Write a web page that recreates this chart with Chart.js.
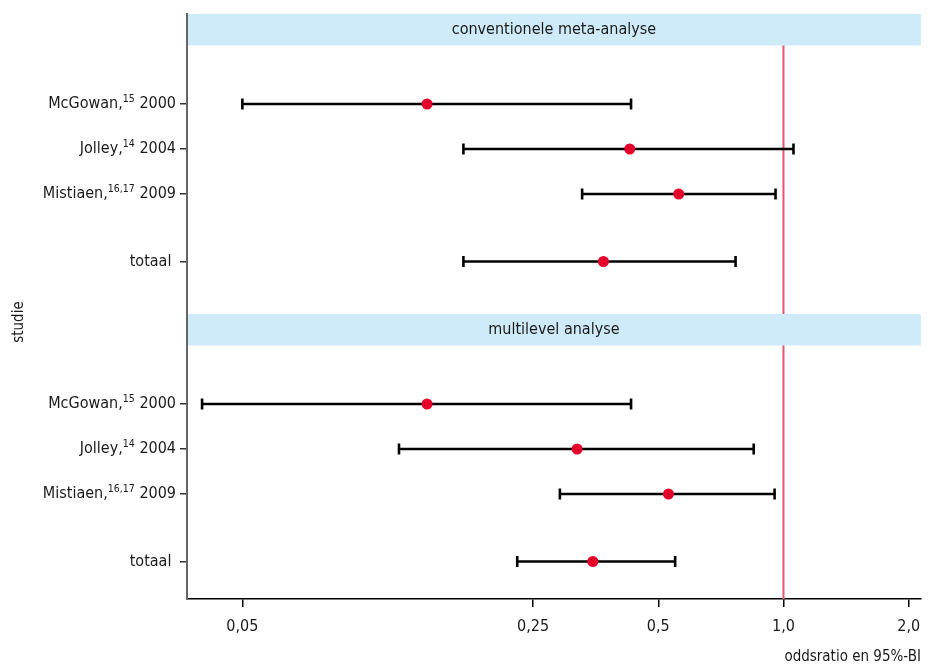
<!DOCTYPE html>
<html lang="nl">
<head>
  <meta charset="UTF-8">
  <title>Forest plot – oddsratio en 95%-BI</title>
  <script src="https://cdn.jsdelivr.net/npm/chart.js"></script>
  <style>
    html, body { margin:0; padding:0; background:#fff; }
    #wrap { width:929px; height:668px; }
  </style>
</head>
<body>
  <div id="wrap"><canvas id="forest" width="929" height="668"></canvas></div>

  <script>
    /* ---------- data ---------- */
    const panelTitles = ['conventionele meta-analyse', 'multilevel analyse'];
    const studyNames  = ['McGowan', 'Jolley', 'Mistiaen', 'totaal'];
    const studyRefs   = ['15', '14', '16,17', ''];
    const studyYears  = ['2000', '2004', '2009', ''];

    // conventionele meta-analyse
    const orConv  = [0.139, 0.427, 0.560, 0.369];
    const loConv  = [0.050, 0.170, 0.328, 0.170];
    const hiConv  = [0.430, 1.057, 0.957, 0.767];
    // multilevel analyse
    const orMulti = [0.139, 0.319, 0.529, 0.348];
    const loMulti = [0.040, 0.119, 0.290, 0.229];
    const hiMulti = [0.430, 0.848, 0.952, 0.549];

    const xTickValues = [0.05, 0.25, 0.5, 1, 2];
    const xTickLabels = ['0,05', '0,25', '0,5', '1,0', '2,0'];
    const refValue = 1;

    /* ---------- layout (rij-eenheden) ---------- */
    const ROW_STEP   = [2, 3, 4, 5.5];   // rijen binnen een paneel
    const PANEL_SPAN = 20 / 3;           // hoogte per paneel
    const STRIP_H    = 0.7;              // hoogte van de kopbalk
    const Y_MAX      = 13;

    const FONT = "'Liberation Sans Narrow', 'DejaVu Sans Condensed', 'Open Sans', sans-serif";
    const RED  = '#e4002b';

    const panels = [
      { or: orConv,  lo: loConv,  hi: hiConv },
      { or: orMulti, lo: loMulti, hi: hiMulti }
    ];
    const rowY = (p, i) => p * PANEL_SPAN + ROW_STEP[i];

    const datasets = [];
    const dots = [];
    panels.forEach((pn, p) => {
      studyNames.forEach((_, i) => {
        const y = rowY(p, i);
        datasets.push({
          type: 'line',
          data: [{ x: pn.lo[i], y }, { x: pn.hi[i], y }],
          showLine: true,
          borderColor: '#000',
          borderWidth: 2.6,
          pointStyle: 'line',
          rotation: 90,
          pointRadius: 5.5,
          pointBorderWidth: 2.6,
          pointBorderColor: '#000',
          order: 2
        });
        dots.push({ x: pn.or[i], y });
      });
    });
    datasets.push({
      type: 'scatter',
      data: dots,
      pointRadius: 5.5,
      pointBackgroundColor: RED,
      pointBorderWidth: 0,
      order: 1
    });

    const yTickValues = [];
    panels.forEach((_, p) => studyNames.forEach((_, i) => yTickValues.push(rowY(p, i))));

    /* ---------- extra tekenwerk: kopbalken, referentielijn, labels ---------- */
    const decor = {
      id: 'decor',
      beforeDatasetsDraw(chart) {
        const { ctx, chartArea: a, scales: { x, y } } = chart;
        ctx.save();
        // referentielijn OR = 1
        const rx = x.getPixelForValue(refValue);
        ctx.strokeStyle = '#e8546e';
        ctx.lineWidth = 2;
        ctx.beginPath();
        ctx.moveTo(rx, a.top);
        ctx.lineTo(rx, a.bottom);
        ctx.stroke();
        // kopbalken
        panelTitles.forEach((t, p) => {
          const y0 = y.getPixelForValue(p * PANEL_SPAN);
          const y1 = y.getPixelForValue(p * PANEL_SPAN + STRIP_H);
          ctx.fillStyle = '#cfebf9';
          ctx.fillRect(a.left + 1, y0, a.right - a.left - 1, y1 - y0);
          ctx.fillStyle = '#1a1a1a';
          ctx.font = `16px ${FONT}`;
          ctx.textAlign = 'center';
          ctx.textBaseline = 'middle';
          ctx.fillText(t, (a.left + a.right) / 2, (y0 + y1) / 2);
        });
        ctx.restore();
      },
      afterDraw(chart) {
        const { ctx, chartArea: a, scales: { y } } = chart;
        ctx.save();
        ctx.fillStyle = '#1a1a1a';
        ctx.textBaseline = 'middle';
        ctx.textAlign = 'left';
        const right = a.left - 11;
        panels.forEach((_, p) => {
          studyNames.forEach((name, i) => {
            const py = y.getPixelForValue(rowY(p, i));
            const main = studyRefs[i] ? name + ',' : name + ' ';
            const tail = studyYears[i] ? ' ' + studyYears[i] : '';
            ctx.font = `16px ${FONT}`;
            const wMain = ctx.measureText(main).width;
            const wTail = ctx.measureText(tail).width;
            ctx.font = `10.5px ${FONT}`;
            const wSup = ctx.measureText(studyRefs[i]).width;
            let xx = right - wTail - wSup - wMain;
            ctx.font = `16px ${FONT}`;
            ctx.fillText(main, xx, py);
            xx += wMain;
            ctx.font = `10.5px ${FONT}`;
            ctx.fillText(studyRefs[i], xx, py - 5);
            xx += wSup;
            ctx.font = `16px ${FONT}`;
            ctx.fillText(tail, xx, py);
          });
        });
        // as-titel y
        ctx.translate(19, 322);
        ctx.rotate(-Math.PI / 2);
        ctx.textAlign = 'center';
        ctx.font = `15px ${FONT}`;
        ctx.fillText('studie', 0, 0);
        ctx.restore();
      }
    };

    new Chart(document.getElementById('forest'), {
      type: 'scatter',
      data: { datasets },
      options: {
        responsive: false,
        animation: false,
        layout: { padding: { left: 0, right: 0, top: 14, bottom: 0 } },
        plugins: { legend: { display: false }, tooltip: { enabled: false } },
        scales: {
          x: {
            type: 'logarithmic',
            min: 0.0368,
            max: 2.14,
            afterBuildTicks: s => { s.ticks = xTickValues.map(v => ({ value: v })); },
            afterFit: s => { s.height = 69; s.paddingLeft = 0; s.paddingRight = 6; },
            ticks: {
              callback: (v, i) => xTickLabels[i],
              color: '#1a1a1a',
              font: { family: FONT, size: 16 },
              padding: 10,
              maxRotation: 0,
              autoSkip: false
            },
            grid: { display: true, drawOnChartArea: false, drawTicks: true,
                    tickLength: 8, color: '#000', lineWidth: 1.5 },
            border: { display: true, color: '#000', width: 1.5 },
            title: { display: true, text: 'oddsratio en 95%-BI', align: 'end',
                     color: '#1a1a1a', font: { family: FONT, size: 15 },
                     padding: { top: 0, bottom: 2 } }
          },
          y: {
            type: 'linear',
            reverse: true,
            min: 0,
            max: Y_MAX,
            afterBuildTicks: s => { s.ticks = yTickValues.map(v => ({ value: v })); },
            afterFit: s => { s.width = 187; s.paddingTop = 0; s.paddingBottom = 0; },
            ticks: { display: false },
            grid: { display: true, drawOnChartArea: false, drawTicks: true,
                    tickLength: 7, color: '#333', lineWidth: 1.5 },
            border: { display: true, color: '#666', width: 2 }
          }
        }
      },
      plugins: [decor]
    });
  </script>
</body>
</html>
